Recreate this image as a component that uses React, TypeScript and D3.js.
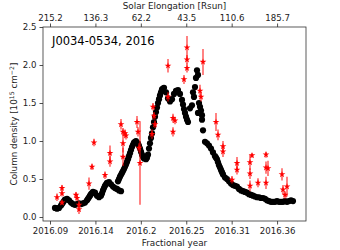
import React, { useEffect, useRef } from 'react'
import * as d3 from 'd3'

const W = 340
const H = 250
const margin = { top: 27, right: 34, bottom: 29, left: 43 }

// tick positions in fractional year, labels as printed on the chart
const xTicks = [2016.088, 2016.1425, 2016.197, 2016.2515, 2016.306, 2016.3605]
const xTickLabels = ['2016.09', '2016.14', '2016.2', '2016.25', '2016.31', '2016.36']
const elongTickLabels = ['215.2', '136.3', '62.2', '43.5', '110.6', '185.7']
const yTicks = [0, 0.5, 1.0, 1.5, 2.0, 2.5]

// model column density (black dots)
const modelYear = [
  2016.094, 2016.0964, 2016.0988, 2016.1012, 2016.1036, 2016.106, 2016.1084, 2016.1108, 2016.1132, 2016.1156,
  2016.118, 2016.1204, 2016.1228, 2016.1252, 2016.1276, 2016.13, 2016.1324, 2016.1348, 2016.1372, 2016.1396,
  2016.142, 2016.1444, 2016.1468, 2016.1492, 2016.1516, 2016.154, 2016.1564, 2016.1588, 2016.1612, 2016.1636,
  2016.166, 2016.1684, 2016.1708, 2016.1732,
  2016.1696, 2016.172, 2016.1744, 2016.1768, 2016.1792, 2016.1816, 2016.184, 2016.1864, 2016.1888, 2016.1912,
  2016.1936, 2016.196, 2016.1984, 2016.2008, 2016.2032, 2016.2056, 2016.208, 2016.2104, 2016.2128, 2016.2152,
  2016.2176, 2016.22, 2016.2224, 2016.2248, 2016.2272, 2016.2296, 2016.232, 2016.2344, 2016.2368, 2016.2392,
  2016.2416, 2016.244, 2016.2464, 2016.2488, 2016.2512, 2016.2536,
  2016.256, 2016.2584, 2016.2596, 2016.2608, 2016.262, 2016.2632, 2016.2644, 2016.2656, 2016.2656, 2016.2668,
  2016.268, 2016.2692, 2016.2704, 2016.2704, 2016.2716, 2016.274, 2016.2764, 2016.2788, 2016.2812, 2016.2836,
  2016.286, 2016.2884, 2016.2908, 2016.2932, 2016.2956, 2016.298, 2016.3004, 2016.3028, 2016.3052, 2016.3076,
  2016.31, 2016.3124, 2016.3148, 2016.3172, 2016.3196, 2016.322, 2016.3244, 2016.3268, 2016.3292, 2016.3316,
  2016.334, 2016.3364, 2016.3388, 2016.3412, 2016.3436, 2016.346, 2016.3484, 2016.3508, 2016.3532, 2016.3556,
  2016.358, 2016.3604, 2016.3628, 2016.3652, 2016.3676, 2016.37, 2016.3724, 2016.3748, 2016.3772, 2016.3796,
  // denser sampling where the curve is steep
  2016.1024, 2016.1048, 2016.1336, 2016.136, 2016.1384, 2016.1504, 2016.1528, 2016.1552,
  2016.1708, 2016.1732, 2016.1756, 2016.178, 2016.1804, 2016.1828, 2016.1852, 2016.1876, 2016.19,
  2016.1948, 2016.1972, 2016.1996, 2016.2044, 2016.2068, 2016.2092, 2016.2116, 2016.214, 2016.2164,
  2016.2188, 2016.2212, 2016.2236, 2016.2476, 2016.25, 2016.2524, 2016.2872, 2016.2896, 2016.292, 2016.2944,
]
const modelDensity = [
  0.12, 0.11, 0.12, 0.15, 0.19, 0.23, 0.24, 0.22, 0.19, 0.17,
  0.16, 0.17, 0.18, 0.17, 0.18, 0.19, 0.22, 0.26, 0.3, 0.33,
  0.32, 0.28, 0.26, 0.28, 0.35, 0.41, 0.45, 0.46, 0.43, 0.4,
  0.38, 0.37, 0.35, 0.34,
  0.47, 0.53, 0.58, 0.63, 0.69, 0.76, 0.84, 0.92, 0.98, 1.0,
  0.97, 0.9, 0.82, 0.77, 0.76, 0.82, 0.97, 1.1, 1.25, 1.38,
  1.5, 1.6, 1.68, 1.7, 1.64, 1.56, 1.52, 1.55, 1.62, 1.66,
  1.67, 1.62, 1.54, 1.42, 1.32, 1.25,
  1.43, 1.47, 1.64, 1.58, 1.71, 1.83, 1.93, 1.87, 1.37, 1.5,
  1.45, 1.4, 1.34, 1.28, 1.14, 0.99, 0.97, 0.94, 0.9, 0.85,
  0.8, 0.76, 0.68, 0.62, 0.56, 0.52, 0.5, 0.47, 0.44, 0.42,
  0.41, 0.4, 0.37, 0.35, 0.34, 0.33, 0.32, 0.3, 0.29, 0.28,
  0.27, 0.26, 0.26, 0.25, 0.25, 0.24, 0.22, 0.21, 0.2, 0.2,
  0.2, 0.21, 0.2, 0.2, 0.2, 0.21, 0.2, 0.21, 0.22, 0.21,
  0.17, 0.21, 0.24, 0.28, 0.315, 0.31, 0.38, 0.43,
  0.5, 0.555, 0.605, 0.66, 0.725, 0.8, 0.88, 0.95, 0.99,
  0.935, 0.86, 0.79, 0.78, 0.9, 1.04, 1.18, 1.32, 1.44,
  1.55, 1.64, 1.69, 1.48, 1.37, 1.28, 0.78, 0.72, 0.65, 0.59,
]

// measured column density (red stars with error bars)
const obsYear = [
  2016.0964, 2016.1024, 2016.1024, 2016.1024, 2016.1192, 2016.1204, 2016.1228, 2016.1228, 2016.1348, 2016.1384,
  2016.1408, 2016.154, 2016.16, 2016.16, 2016.1732, 2016.1756, 2016.178, 2016.1792, 2016.1756, 2016.1756,
  2016.1924, 2016.1936, 2016.1948, 2016.196, 2016.2116, 2016.2128, 2016.214, 2016.2104, 2016.2296, 2016.2296,
  2016.2356, 2016.238, 2016.2356, 2016.2488, 2016.2524, 2016.2524, 2016.2524, 2016.2716, 2016.268, 2016.2692,
  2016.2872, 2016.2896, 2016.2956, 2016.2956, 2016.3064, 2016.3124, 2016.3124, 2016.328, 2016.328, 2016.328,
  2016.3304, 2016.3376, 2016.3472, 2016.3472, 2016.3496, 2016.3472, 2016.3664, 2016.3676, 2016.37, 2016.3724,
]
const obsDensity = [
  0.26, 0.38, 0.31, 0.19, 0.29, 0.25, 0.16, 0.1, 0.44, 0.66,
  0.98, 0.55, 0.84, 0.73, 1.22, 1.12, 1.1, 1.07, 0.97, 0.79,
  1.25, 1.12, 0.91, 0.71, 1.45, 1.33, 1.22, 1.09, 1.99, 1.58,
  1.3, 1.27, 1.12, 1.81, 2.23, 2.07, 1.96, 2.04, 1.66, 1.58,
  1.25, 1.08, 0.93, 0.86, 0.49, 0.71, 0.62, 0.72, 0.57, 0.41,
  0.81, 0.45, 0.82, 0.65, 0.64, 0.45, 0.56, 0.36, 0.29, 0.4,
]
const obsErr = [
  0.05, 0.04, 0.04, 0.03, 0.04, 0.04, 0.05, 0.06, 0.08, 0.04,
  0.05, 0.05, 0.1, 0.07, 0.07, 0.05, 0.05, 0.05, 0.12, 0.12,
  0.08, 0.06, 0.06, 0.55, 0.05, 0.05, 0.05, 0.06, 0.09, 0.06,
  0.06, 0.05, 0.06, 0.06, 0.15, 0.06, 0.06, 0.17, 0.08, 0.06,
  0.12, 0.07, 0.07, 0.07, 0.05, 0.08, 0.06, 0.1, 0.07, 0.07,
  0.03, 0.06, 0.04, 0.08, 0.1, 0.08, 0.08, 0.06, 0.05, 0.13,
]

const font = 'DejaVu Sans, sans-serif'

const App = () => {
  const ref = useRef<SVGSVGElement>(null)

  useEffect(() => {
    draw()
  })

  const draw = () => {
    const root = d3.select(ref.current)
    root.selectAll('*').remove()

    const width = W - margin.left - margin.right
    const height = H - margin.top - margin.bottom

    const x = d3.scaleLinear().domain([2016.0796, 2016.3952]).range([0, width])
    const y = d3.scaleLinear().domain([-0.0526, 2.5]).range([height, 0])

    const svg = root.append('g').attr('transform', `translate(${margin.left},${margin.top})`)

    // model points
    svg
      .append('g')
      .selectAll('circle')
      .data(modelYear.map((t, i) => ({ t, v: modelDensity[i] })))
      .join('circle')
      .attr('cx', (d) => x(d.t))
      .attr('cy', (d) => y(d.v))
      .attr('r', 3.1)
      .attr('fill', '#000')

    const obs = obsYear.map((t, i) => ({ t, v: obsDensity[i], e: obsErr[i] }))

    // error bars
    svg
      .append('g')
      .selectAll('line')
      .data(obs)
      .join('line')
      .attr('x1', (d) => x(d.t))
      .attr('x2', (d) => x(d.t))
      .attr('y1', (d) => y(d.v - d.e))
      .attr('y2', (d) => y(d.v + d.e))
      .attr('stroke', '#ff0000')
      .attr('stroke-opacity', 0.75)
      .attr('stroke-width', 1.3)

    const star = d3.symbol().type(d3.symbolStar).size(14)
    svg
      .append('g')
      .selectAll('path')
      .data(obs)
      .join('path')
      .attr('transform', (d) => `translate(${x(d.t)},${y(d.v)})`)
      .attr('d', star)
      .attr('fill', '#ff0000')

    // axes
    const styleAxis = (g: any) => {
      g.selectAll('.domain').remove()
      g.selectAll('line').attr('stroke', '#222').attr('stroke-width', 0.8)
      g.selectAll('text').attr('font-family', font).attr('font-size', 8.6).attr('fill', '#222')
    }

    svg
      .append('g')
      .attr('transform', `translate(0,${height})`)
      .call(
        d3.axisBottom(x).tickValues(xTicks).tickSize(3.5).tickPadding(3)
          .tickFormat((d, i) => xTickLabels[i])
      )
      .call(styleAxis)

    svg
      .append('g')
      .call(
        d3.axisTop(x).tickValues(xTicks).tickSize(3.5).tickPadding(2.5)
          .tickFormat((d, i) => elongTickLabels[i])
      )
      .call(styleAxis)

    svg
      .append('g')
      .call(d3.axisLeft(y).tickValues(yTicks).tickSize(3.5).tickPadding(3).tickFormat(d3.format('.1f')))
      .call(styleAxis)

    // frame
    svg
      .append('rect')
      .attr('width', width)
      .attr('height', height)
      .attr('fill', 'none')
      .attr('stroke', '#333')
      .attr('stroke-width', 0.8)

    svg
      .append('text')
      .attr('x', 9)
      .attr('y', 18)
      .attr('font-family', font)
      .attr('font-size', 11.5)
      .attr('fill', '#000')
      .text('J0034-0534, 2016')

    // axis labels
    root
      .append('text')
      .attr('x', margin.left + width / 2)
      .attr('y', 246)
      .attr('text-anchor', 'middle')
      .attr('font-family', font)
      .attr('font-size', 8.8)
      .attr('fill', '#222')
      .text('Fractional year')

    root
      .append('text')
      .attr('x', margin.left + width / 2)
      .attr('y', 9)
      .attr('text-anchor', 'middle')
      .attr('font-family', font)
      .attr('font-size', 8.8)
      .attr('fill', '#222')
      .text('Solar Elongation [Rsun]')

    const yl = root
      .append('text')
      .attr('transform', `translate(17,${margin.top + height / 2}) rotate(-90)`)
      .attr('text-anchor', 'middle')
      .attr('font-family', font)
      .attr('font-size', 8.8)
      .attr('fill', '#222')
    yl.append('tspan').text('Column density [10')
    yl.append('tspan').attr('dy', -3.5).attr('font-size', 6.2).text('15')
    yl.append('tspan').attr('dy', 3.5).text(' cm')
    yl.append('tspan').attr('dy', -3.5).attr('font-size', 6.2).text('\u22122')
    yl.append('tspan').attr('dy', 3.5).text(']')
  }

  return (
    <svg
      ref={ref}
      width={W}
      height={H}
      style={{ position: 'absolute', left: 0, top: 0, background: '#fff' }}
    />
  )
}

export default App
